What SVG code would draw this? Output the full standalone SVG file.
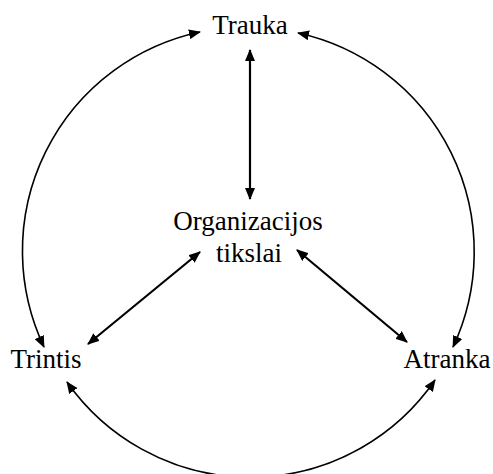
<svg xmlns="http://www.w3.org/2000/svg" width="493" height="474" viewBox="0 0 493 474">
  <style>
    .label { font-family: "Liberation Serif", "Times New Roman", serif; font-size: 27px; fill: #000; text-anchor: middle; }
    .arc { fill: none; stroke: #000; stroke-width: 1.6; marker-start: url(#head); marker-end: url(#head); }
    .line { fill: none; stroke: #000; stroke-width: 2.2; marker-start: url(#head); marker-end: url(#head); }
  </style>
  <defs>
    <marker id="head" viewBox="0 0 12 10" refX="11" refY="5" markerWidth="12" markerHeight="10" markerUnits="userSpaceOnUse" orient="auto-start-reverse">
      <path d="M0,0 L12,5 L0,10 Z" fill="#000"/>
    </marker>
  </defs>
  <rect width="493" height="474" fill="#fff"/>

  <g id="connectors">
    <!-- outer ring: three bidirectional arcs between the corner nodes -->
    <path class="arc" d="M200,32 A224,224 0 0 0 44,347"/>
    <path class="arc" d="M298,33 A224,224 0 0 1 453,347"/>
    <path class="arc" d="M67,382 A224,224 0 0 0 435,380"/>
    <!-- spokes from the centre -->
    <path class="line" d="M250,50 L250,199"/>
    <path class="line" d="M200,252 L88,344"/>
    <path class="line" d="M297,250 L407,342"/>
  </g>

  <g id="trauka">
    <text class="label" x="250" y="34">Trauka</text>
  </g>
  <g id="tikslai">
    <text class="label" x="248" y="230">Organizacijos</text>
    <text class="label" x="249" y="262">tikslai</text>
  </g>
  <g id="trintis">
    <text class="label" x="46" y="368">Trintis</text>
  </g>
  <g id="atranka">
    <text class="label" x="447" y="368">Atranka</text>
  </g>
</svg>
